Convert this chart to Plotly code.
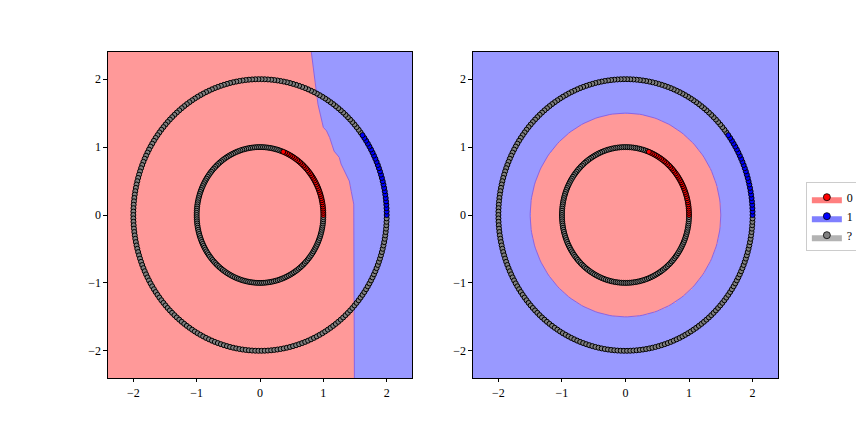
import numpy as np
import plotly.graph_objects as go
from plotly.subplots import make_subplots

# ---- data ----
n_outer = 250
n_inner = 200
r_outer = 2.0
r_inner = 1.0
n_labeled_outer = 26   # class 1 (blue), first points of outer circle
n_labeled_inner = 39   # class 0 (red), first points of inner circle

# left model decision boundary (x of boundary as function of y)
bnd_y = [-2.4, -0.38, 0.06, 0.16, 0.35, 0.50, 0.75, 0.85, 0.94, 1.14, 1.24, 1.29, 1.63, 2.03, 2.4]
bnd_x = [1.49, 1.49, 1.49, 1.48, 1.44, 1.41, 1.28, 1.25, 1.17, 1.10, 1.05, 1.00, 0.915, 0.86, 0.81]
# right model: circular boundary radius
r_boundary = 1.5

axis_range = [-2.4, 2.4]
tick_vals = [-2, -1, 0, 1, 2]
legend_labels = ["0", "1", "?"]

RED_FILL = "rgb(255,153,153)"
BLUE_FILL = "rgb(153,153,255)"
EDGE = "rgb(140,100,225)"

# ---- points ----
t_o = np.linspace(0, 2 * np.pi, n_outer, endpoint=False)
t_i = np.linspace(0, 2 * np.pi, n_inner, endpoint=False)
xo, yo = r_outer * np.cos(t_o), r_outer * np.sin(t_o)
xi, yi = r_inner * np.cos(t_i), r_inner * np.sin(t_i)

# ---- grids ----
g = np.linspace(axis_range[0], axis_range[1], 481)
GX, GY = np.meshgrid(g, g)
z_left = (GX > np.interp(GY, bnd_y, bnd_x)).astype(float)
z_right = (GX**2 + GY**2 > r_boundary**2).astype(float)

fig = make_subplots(rows=1, cols=2, horizontal_spacing=0.07)
cs = [[0, RED_FILL], [1, BLUE_FILL]]

for col, z in [(1, z_left), (2, z_right)]:
    fig.add_trace(go.Heatmap(x=g, y=g, z=z, colorscale=cs, zmin=0, zmax=1,
                             showscale=False, hoverinfo="skip", zsmooth=False),
                  row=1, col=col)

# boundary lines
fig.add_trace(go.Scatter(x=bnd_x, y=bnd_y, mode="lines", line=dict(color=EDGE, width=1),
                         showlegend=False, hoverinfo="skip"), row=1, col=1)
tb = np.linspace(0, 2 * np.pi, 200)
fig.add_trace(go.Scatter(x=r_boundary * np.cos(tb), y=r_boundary * np.sin(tb), mode="lines",
                         line=dict(color=EDGE, width=1), showlegend=False, hoverinfo="skip"),
              row=1, col=2)

mk = dict(size=5, line=dict(color="black", width=1))
for col in (1, 2):
    # unlabeled
    ux = np.concatenate([xo[n_labeled_outer:], xi[n_labeled_inner:]])
    uy = np.concatenate([yo[n_labeled_outer:], yi[n_labeled_inner:]])
    fig.add_trace(go.Scatter(x=ux, y=uy, mode="markers",
                             marker=dict(color="rgb(128,128,128)", **mk),
                             showlegend=False, hoverinfo="skip"), row=1, col=col)
    fig.add_trace(go.Scatter(x=xi[:n_labeled_inner], y=yi[:n_labeled_inner], mode="markers",
                             marker=dict(color="red", **mk),
                             showlegend=False, hoverinfo="skip"), row=1, col=col)
    fig.add_trace(go.Scatter(x=xo[:n_labeled_outer], y=yo[:n_labeled_outer], mode="markers",
                             marker=dict(color="blue", **mk),
                             showlegend=False, hoverinfo="skip"), row=1, col=col)

# legend entries
for lab, fc, mc in zip(legend_labels,
                       ["rgba(255,0,0,0.5)", "rgba(0,0,255,0.5)", "rgba(128,128,128,0.6)"],
                       ["red", "blue", "rgb(128,128,128)"]):
    fig.add_trace(go.Scatter(x=[None], y=[None], mode="markers", fill="toself", fillcolor=fc,
                             marker=dict(color=mc, size=7, line=dict(color="black", width=0.8)),
                             name=lab, showlegend=True), row=1, col=1)

# page body has an 8px margin, so the figure is 856x424 placed at (8, 8)
fig.update_layout(
    width=856, height=424,
    margin=dict(l=0, r=0, t=0, b=0, autoexpand=False),
    plot_bgcolor="white", paper_bgcolor="white",
    font=dict(family="Liberation Serif", size=12, color="black"),
    legend=dict(x=0.994, y=0.509, xanchor="right", yanchor="middle",
                bordercolor="#cccccc", borderwidth=1, bgcolor="white",
                font=dict(size=12), itemwidth=30, tracegroupgap=0),
)
axcommon = dict(range=axis_range, tickvals=tick_vals, showgrid=False, zeroline=False,
                showline=True, linecolor="black", linewidth=1, mirror=True, automargin=False,
                ticks="outside", ticklen=3.5, tickcolor="black", tickwidth=1)
fig.update_xaxes(**axcommon)
fig.update_yaxes(**axcommon)
fig.update_layout(
    xaxis=dict(domain=[0.1168, 0.4720]),
    xaxis2=dict(domain=[0.5432, 0.8995]),
    yaxis=dict(domain=[0.1274, 0.8962]),
    yaxis2=dict(domain=[0.1274, 0.8962]),
)

fig.write_html("out.html")
